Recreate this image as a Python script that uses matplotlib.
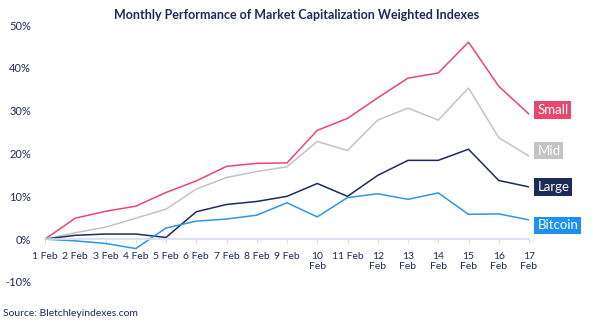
import matplotlib.pyplot as plt
import numpy as np

plt.rcParams['font.family'] = ['Lato', 'DejaVu Sans']

# daily cumulative performance, in %
days = ['1 Feb', '2 Feb', '3 Feb', '4 Feb', '5 Feb', '6 Feb', '7 Feb', '8 Feb', '9 Feb',
        '10\nFeb', '11 Feb', '12\nFeb', '13\nFeb', '14\nFeb', '15\nFeb', '16\nFeb', '17\nFeb']
small = [0, 4.9, 6.5, 7.7, 10.9, 13.6, 17.0, 17.7, 17.8, 25.4, 28.2, 33.0, 37.6, 38.8, 46.0, 35.7, 29.2]
mid = [0, 1.5, 2.8, 4.9, 7.0, 11.7, 14.4, 15.8, 16.9, 22.8, 20.7, 27.8, 30.6, 27.8, 35.3, 23.7, 19.4]
large = [0, 0.9, 1.2, 1.2, 0.4, 6.4, 8.1, 8.8, 10.0, 13.0, 10.0, 14.9, 18.4, 18.4, 21.0, 13.7, 12.2]
bitcoin = [0, -0.4, -1.0, -2.2, 2.6, 4.2, 4.7, 5.6, 8.5, 5.2, 9.7, 10.6, 9.3, 10.8, 5.8, 5.9, 4.5]

navy = '#1c2b5a'
series = [
    ('Small', small, '#e8476f', '#e8476f', 3),
    ('Mid', mid, '#c4c4c4', '#c4c4c4', 4),
    ('Large', large, '#1c2b5a', '#1c2b5a', 0),
    ('Bitcoin', bitcoin, '#2f95e6', '#1e90f0', -4),
]

fig = plt.figure(figsize=(5.93, 3.25), dpi=100)
ax = fig.add_axes([45 / 593, 43 / 325, 484 / 593, 257 / 325])

x = np.arange(len(days))
for name, vals, col, boxcol, dy in series:
    ax.plot(x, vals, color=col, lw=1.1, solid_joinstyle='miter')
    ax.annotate(name, (x[-1], vals[-1]), xytext=(6, dy), textcoords='offset points',
                ha='left', va='center', color='white', fontsize=9.5,
                bbox=dict(boxstyle='square,pad=0.22', fc=boxcol, ec='none'),
                annotation_clip=False)

ax.set_xlim(0, 16)
ax.set_ylim(-10, 50)
ax.set_yticks(np.arange(-10, 51, 10))
ax.set_yticklabels([f'{v}%' for v in range(-10, 51, 10)])
ax.set_xticks(x)
ax.set_xticklabels(days, linespacing=1.8, va='top')

for s in ['top', 'right', 'left']:
    ax.spines[s].set_visible(False)
ax.spines['bottom'].set_position(('data', 0))
ax.spines['bottom'].set_color('#d8dcef')
ax.spines['bottom'].set_linewidth(1.2)
ax.tick_params(axis='x', colors='#d8dcef', length=3, width=0.8, pad=6, labelcolor=navy, labelsize=7.5)
ax.tick_params(axis='y', length=0, pad=10, labelcolor=navy, labelsize=8)
ax.set_facecolor('none')

fig.text(0.5, 0.953, 'Monthly Performance of Market Capitalization Weighted Indexes',
         ha='center', va='center', fontsize=9, fontweight='bold', color=navy)
fig.text(3 / 593, 0.022, 'Source: Bletchleyindexes.com', ha='left', va='bottom',
         fontsize=7.5, color=navy)

fig.savefig('out.png', dpi=100)
